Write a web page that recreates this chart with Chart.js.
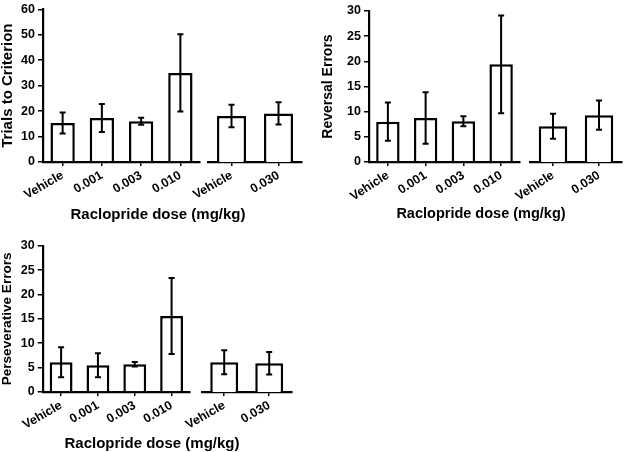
<!DOCTYPE html>
<html>
<head>
<meta charset="utf-8">
<script src="https://cdn.jsdelivr.net/npm/chart.js@4.4.0/dist/chart.umd.min.js"></script>
<style>
body { margin: 0; background: #fff; }
#wrap { position: relative; width: 624px; height: 452px; background: #fff; font-family: "Liberation Sans", Arial, sans-serif; }
#wrap canvas { position: absolute; left: 0; top: 0; }
.xtitle { position: absolute; font-weight: bold; white-space: nowrap; transform: translate(-50%, -50%); color: #000; }
</style>
</head>
<body>
<div id="wrap">
  <canvas id="c1a" width="624" height="452"></canvas>
  <canvas id="c1b" width="624" height="452"></canvas>
  <canvas id="c2a" width="624" height="452"></canvas>
  <canvas id="c2b" width="624" height="452"></canvas>
  <canvas id="c3a" width="624" height="452"></canvas>
  <canvas id="c3b" width="624" height="452"></canvas>
  <div class="xtitle" style="left:158px; top:213px; font-size:15px">Raclopride dose (mg/kg)</div>
  <div class="xtitle" style="left:481px; top:213px; font-size:14.5px">Raclopride dose (mg/kg)</div>
  <div class="xtitle" style="left:152px; top:442px; font-size:15px">Raclopride dose (mg/kg)</div>
</div>
<script>
// two sessions: 4 doses, then vehicle vs 0.030
const doseLabelsA = ['Vehicle', '0.001', '0.003', '0.010'];
const doseLabelsB = ['Vehicle', '0.030'];

// values in order Vehicle, 0.001, 0.003, 0.010 | Vehicle, 0.030
const trialsMean = [15.3, 17.3, 16.0, 35.0, 17.7, 18.7];
const trialsSem  = [4.1, 5.5, 1.35, 15.2, 4.35, 4.25];
const reversalMean = [8.0, 8.75, 8.1, 19.4, 7.1, 9.3];
const reversalSem  = [3.8, 5.1, 1.0, 9.7, 2.5, 2.9];
const persevMean = [6.1, 5.5, 5.7, 15.6, 6.1, 5.9];
const persevSem  = [3.1, 2.45, 0.45, 7.8, 2.45, 2.3];

const trialsTicks = [0, 10, 20, 30, 40, 50, 60];
const errorTicks = [0, 5, 10, 15, 20, 25, 30];

const FONT = '"Liberation Sans", Arial, sans-serif';

const errorBars = {
    id: 'errorBars',
    afterDatasetsDraw(chart, args, opts) {
        const ctx = chart.ctx;
        const yScale = chart.scales.y;
        const ds = chart.data.datasets[0];
        ctx.save();
        ctx.strokeStyle = '#000';
        ctx.lineWidth = 2;
        chart.getDatasetMeta(0).data.forEach((bar, i) => {
            const m = ds.data[i], e = opts.sem[i];
            const yTop = yScale.getPixelForValue(m + e);
            const yBot = yScale.getPixelForValue(m - e);
            ctx.beginPath();
            ctx.moveTo(bar.x, yTop); ctx.lineTo(bar.x, yBot);
            ctx.moveTo(bar.x - 3, yTop); ctx.lineTo(bar.x + 3, yTop);
            ctx.moveTo(bar.x - 3, yBot); ctx.lineTo(bar.x + 3, yBot);
            ctx.stroke();
        });
        ctx.restore();
    }
};

function makeChart (id, o) {
    return new Chart(document.getElementById(id), {
        type: 'bar',
        data: {
            labels: o.labels,
            datasets: [{
                data: o.mean,
                backgroundColor: '#fff',
                borderColor: '#000',
                borderWidth: 2.5,
                barPercentage: 0.62,
                categoryPercentage: 1
            }]
        },
        options: {
            responsive: false,
            animation: false,
            layout: { padding: o.pad },
            plugins: {
                legend: { display: false },
                tooltip: { enabled: false },
                errorBars: { sem: o.sem }
            },
            scales: {
                x: {
                    afterFit: (s) => { s.height = 40; },
                    border: { display: true, color: '#000', width: 2.2 },
                    grid: { display: true, offset: false, drawOnChartArea: false, drawTicks: true, tickLength: 4, color: '#000', lineWidth: 1.5 },
                    ticks: {
                        color: '#000', autoSkip: false, minRotation: o.rot, maxRotation: o.rot, padding: 2,
                        font: { family: FONT, size: 12.5, weight: 'bold' }
                    }
                },
                y: {
                    display: o.showY,
                    min: o.ticks[0],
                    max: o.ticks[o.ticks.length - 1],
                    afterFit: (s) => { s.width = o.yWidth; },
                    border: { display: true, color: '#000', width: 2.2 },
                    grid: { display: true, drawOnChartArea: false, drawTicks: true, tickLength: 5, color: '#000', lineWidth: 1.5 },
                    ticks: {
                        color: '#000', stepSize: o.ticks[1] - o.ticks[0], padding: 3,
                        font: { family: FONT, size: 12.5, weight: 'bold', lineHeight: 1 }
                    },
                    title: {
                        display: !!o.yTitle, text: o.yTitle, color: '#000', padding: 0,
                        font: { family: FONT, size: o.titleSize, weight: 'bold', lineHeight: 1 }
                    }
                }
            }
        },
        plugins: [errorBars]
    });
}

// top left: trials to criterion
makeChart('c1a', { labels: doseLabelsA, mean: trialsMean.slice(0, 4), sem: trialsSem.slice(0, 4), ticks: trialsTicks,
    showY: true, yTitle: 'Trials to Criterion', titleSize: 15, yWidth: 43, rot: 30,
    pad: { left: 0, right: 424, top: 6, bottom: 250 } });
makeChart('c1b', { labels: doseLabelsB, mean: trialsMean.slice(4), sem: trialsSem.slice(4), ticks: trialsTicks,
    showY: false, yWidth: 0, rot: 30,
    pad: { left: 208, right: 322, top: 6, bottom: 250 } });

// top right: reversal errors
makeChart('c2a', { labels: doseLabelsA, mean: reversalMean.slice(0, 4), sem: reversalSem.slice(0, 4), ticks: errorTicks,
    showY: true, yTitle: 'Reversal Errors', titleSize: 14, yWidth: 48, rot: 33,
    pad: { left: 321, right: 104, top: 11, bottom: 250 } });
makeChart('c2b', { labels: doseLabelsB, mean: reversalMean.slice(4), sem: reversalSem.slice(4), ticks: errorTicks,
    showY: false, yWidth: 0, rot: 33,
    pad: { left: 530, right: 2, top: 11, bottom: 250 } });

// bottom left: perseverative errors
makeChart('c3a', { labels: doseLabelsA, mean: persevMean.slice(0, 4), sem: persevSem.slice(0, 4), ticks: errorTicks,
    showY: true, yTitle: 'Perseverative Errors', titleSize: 13.6, yWidth: 42.7, rot: 30,
    pad: { left: 0, right: 434, top: 245.7, bottom: 20 } });
makeChart('c3b', { labels: doseLabelsB, mean: persevMean.slice(4), sem: persevSem.slice(4), ticks: errorTicks,
    showY: false, yWidth: 0, rot: 30,
    pad: { left: 201.7, right: 332.3, top: 245.7, bottom: 20 } });
</script>
</body>
</html>
